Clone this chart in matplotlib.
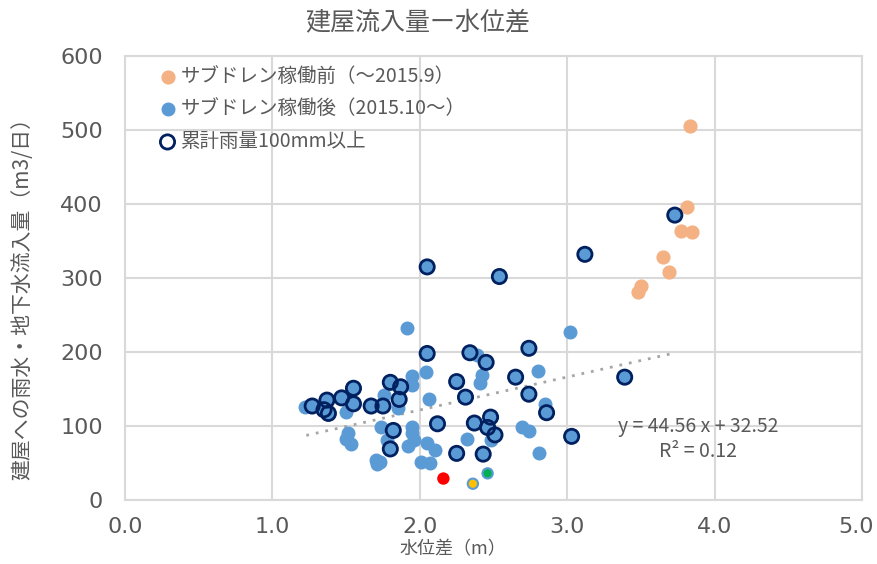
import matplotlib
matplotlib.use("Agg")
import matplotlib.pyplot as plt
from matplotlib.transforms import ScaledTranslation

plt.rcParams['font.family'] = ['Noto Sans CJK JP', 'DejaVu Sans']

# サブドレン稼働前 (orange)
before_x = [3.83, 3.81, 3.77, 3.85, 3.65, 3.69, 3.50, 3.48]
before_y = [505, 396, 364, 362, 328, 308, 289, 281]

# サブドレン稼働後, no heavy rain (blue)
after_x = [1.91, 3.02, 2.39, 2.80, 2.04, 1.95, 1.95, 2.42, 2.41, 2.06,
           1.76, 1.85, 1.22, 1.50, 2.85, 2.69, 2.74, 2.81, 2.32, 2.48,
           1.74, 1.51, 1.50, 1.53, 1.78, 1.70, 1.73, 1.71, 1.95, 1.95,
           1.96, 1.92, 2.05, 2.10, 2.01, 2.07]
after_y = [233, 227, 196, 175, 173, 167, 156, 169, 158, 137,
           142, 124, 126, 119, 130, 99, 93, 63, 82, 81,
           99, 90, 83, 76, 81, 54, 52, 49, 98, 90,
           81, 73, 77, 67, 52, 50]

# 累計雨量100mm以上 (also after the sub-drain start)
rain_x = [2.05, 2.54, 3.12, 3.73, 3.39, 3.03, 2.05, 2.34, 2.45, 2.74,
          2.25, 2.31, 2.65, 2.74, 2.86, 2.12, 2.37, 2.48, 2.46, 2.51,
          2.25, 2.43, 1.82, 1.80, 1.80, 1.87, 1.86, 1.75, 1.67, 1.55,
          1.55, 1.47, 1.37, 1.27, 1.35, 1.38]
rain_y = [315, 302, 332, 385, 166, 86, 198, 199, 186, 205,
          160, 139, 166, 143, 118, 103, 104, 112, 98, 88,
          63, 62, 94, 69, 159, 153, 136, 127, 127, 151,
          130, 138, 135, 127, 122, 117]

# single highlighted days
mark_x = [2.16, 2.36, 2.46]
mark_y = [29, 22, 36]
mark_colors = ['#FF0000', '#FFC000', '#00B050']
mark_edges = ['#FF0000', '#5B9BD5', '#5B9BD5']

# trendline from the chart
slope, intercept = 44.56, 32.52
trend_x = [1.23, 3.70]

grey = '#595959'
grid_c = '#D9D9D9'

fig = plt.figure(figsize=(8.77, 5.64), dpi=100)
ax = fig.add_axes([125 / 877, 1 - 500 / 564, 737 / 877, 444 / 564])

ax.scatter(before_x, before_y, s=85, color='#F4B183', zorder=3,
           label='サブドレン稼働前（～2015.9）')
ax.scatter(after_x + rain_x, after_y + rain_y, s=82, color='#5B9BD5', zorder=3,
           label='サブドレン稼働後（2015.10～）')
ax.scatter(rain_x, rain_y, s=105, facecolors='none', edgecolors='#002060',
           linewidths=2.0, zorder=4, label='累計雨量100mm以上')
ax.scatter(mark_x, mark_y, s=55, c=mark_colors, edgecolors=mark_edges,
           linewidths=1.5, zorder=5)

ty = [slope * v + intercept for v in trend_x]
ax.plot(trend_x, ty, color='#A6A6A6', lw=2.0, linestyle=(0, (1, 2.5)), zorder=2)

ax.text(3.89, 99, 'y = 44.56 x + 32.52', ha='center', va='center',
        fontsize=14, color=grey, zorder=6)
ax.text(3.89, 66, 'R² = 0.12', ha='center', va='center',
        fontsize=14, color=grey, zorder=6)

ax.set_xlim(0, 5)
ax.set_ylim(0, 600)
ax.set_xticks([0, 1, 2, 3, 4, 5])
ax.set_xticklabels(['0.0', '1.0', '2.0', '3.0', '4.0', '5.0'])
ax.set_yticks([0, 100, 200, 300, 400, 500, 600])
ax.grid(True, color=grid_c, lw=1.5, zorder=0)
ax.set_axisbelow(True)
for sp in ax.spines.values():
    sp.set_color(grid_c)
    sp.set_linewidth(1.5)
ax.tick_params(length=0, labelsize=16, labelcolor=grey)
ax.tick_params(axis='y', pad=16)
ax.tick_params(axis='x', pad=12)
for lab in ax.get_xticklabels() + ax.get_yticklabels():
    lab.set_fontfamily('DejaVu Sans')

# keep "5.0" inside the picture at the right edge
last = ax.get_xticklabels()[-1]
last.set_horizontalalignment('right')
last.set_transform(last.get_transform() + ScaledTranslation(0.12, 0, fig.dpi_scale_trans))

fig.text(418 / 877, 1 - 22 / 564, '建屋流入量ー水位差', ha='center', va='center',
         fontsize=18, color=grey)
fig.text(453 / 877, 1 - 549 / 564, '水位差（m）', ha='center', va='center',
         fontsize=13, color=grey)
fig.text(22 / 877, 1 - 294 / 564, '建屋への雨水・地下水流入量（m3/日）', ha='center',
         va='center', rotation=90, fontsize=15, color=grey)

ax.legend(loc='upper left', bbox_to_anchor=(150 / 877, 1 - 56 / 564),
          bbox_transform=fig.transFigure, frameon=False, fontsize=14,
          labelcolor=grey, handlelength=0.8, handletextpad=0.3,
          labelspacing=0.6, borderpad=0, scatterpoints=1)

fig.savefig('out.png', dpi=100)
